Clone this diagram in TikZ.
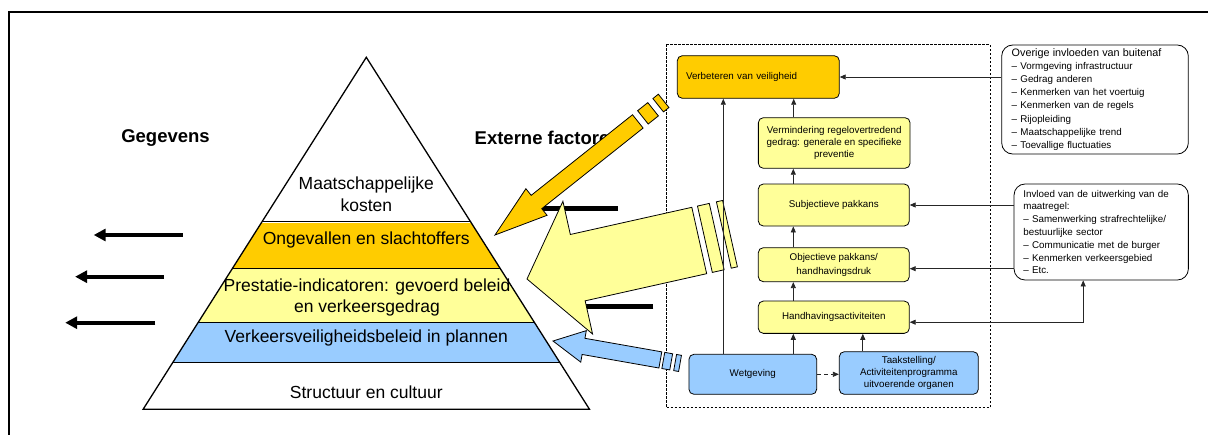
\documentclass[tikz,border=0pt]{standalone}
\usepackage{fontspec}
\setmainfont{Liberation Sans}
\usetikzlibrary{arrows.meta}
\definecolor{amber}{HTML}{FFCC00}
\definecolor{paleyellow}{HTML}{FFFF99}
\definecolor{skyblue}{HTML}{99CCFF}

\begin{document}
\begin{tikzpicture}[x=1pt,y=-1pt,
  box/.style={draw, line width=0.8pt, rounded corners=5pt, align=center, inner sep=0pt,
    font=\fontsize{9.8}{12.3}\selectfont},
  note/.style={draw, line width=0.8pt, rounded corners=11pt, align=left, inner sep=0pt,
    font=\fontsize{9.8}{12.8}\selectfont},
  conn/.style={line width=0.8pt, draw=black!85, -{Triangle[length=6pt,width=5pt]}},
  bothconn/.style={line width=0.8pt, draw=black!85,
    {Triangle[length=6pt,width=5pt]}-{Triangle[length=6pt,width=5pt]}},
  datarrow/.style={line width=4pt, -{Triangle[length=12pt,width=12pt]}},
  blockarrow/.style={draw, line width=0.8pt, line join=miter},
  layer/.style={align=center, inner sep=0pt, font=\fontsize{17.5}{21.5}\selectfont},
  heading/.style={inner sep=0pt, font=\bfseries\fontsize{18.5}{22}\selectfont}
]
\useasboundingbox (0,0) rectangle (1208,434);

% outer frame (continues past the page edge)
\draw[line width=1.8pt] (8.7,500) -- (8.7,11.7) -- (1300,11.7);

% ---------- pyramid ----------
\coordinate (apex) at (366.3,57.3);
\coordinate (bl) at (143.1,409.3);
\coordinate (br) at (589.5,409.3);
\begin{scope}
  \clip (apex) -- (bl) -- (br) -- cycle;
  \fill[amber] (100,222.5) rectangle (650,268);
  \fill[paleyellow] (100,268) rectangle (650,322.5);
  \fill[skyblue] (100,322.5) rectangle (650,362.5);
  \draw[line width=1pt] (100,221.3) -- (650,221.3);
  \draw[line width=1pt] (100,268) -- (650,268);
  \draw[line width=1pt] (100,322.5) -- (650,322.5);
  \draw[line width=1pt] (100,362.5) -- (650,362.5);
\end{scope}
\node[layer] (kosten) at (366.3,194) {Maatschappelijke\\kosten};
\node[layer] (ongevallen) at (366.3,240) {Ongevallen en slachtoffers};
\node[layer] (prestatie) at (367,297.5) {Prestatie-indicatoren: gevoerd beleid\\en verkeersgedrag};
\node[layer] (plannen) at (366.3,338) {Verkeersveiligheidsbeleid in plannen};
\node[layer] (cultuur) at (366.3,392) {Structuur en cultuur};
\draw[line width=1.3pt, line join=miter] (apex) -- (bl) -- (br) -- cycle;

% ---------- headings ----------
\node[heading] (gegevens) at (165.5,138) {Gegevens};
\node[heading, anchor=west] (extern) at (474.5,138) {Externe factoren};

% ---------- data arrows on the left ----------
\coordinate (d1s) at (182.7,235);   \coordinate (d1e) at (93.7,235);
\coordinate (d2s) at (164.1,276.7); \coordinate (d2e) at (75.1,276.7);
\coordinate (d3s) at (155.4,322.7); \coordinate (d3e) at (65.2,322.7);
\draw[datarrow] (d1s) -- (d1e);
\draw[datarrow] (d2s) -- (d2e);
\draw[datarrow] (d3s) -- (d3e);

% bars on the right, partly hidden by the block arrows
\coordinate (r1s) at (618,208.3);   \coordinate (r1e) at (530,208.3);
\coordinate (r2s) at (653.3,306.7); \coordinate (r2e) at (575,306.7);
\draw[line width=4.5pt] (r1s) -- (r1e);
\draw[line width=4.5pt] (r2s) -- (r2e);

% ---------- dashed frame of the model ----------
\draw[line width=0.7pt, dash pattern=on 2.5pt off 1.5pt] (666,44.3) rectangle (990,407.7);

% ---------- striped block arrows ----------
% blue
\begin{scope}[shift={(553,341)}, rotate=-10]
  \filldraw[blockarrow, fill=skyblue] (0,0) -- (31,-16) -- (31,-8.2) -- (109,-8.2)
    -- (109,8.2) -- (31,8.2) -- (31,16) -- cycle;
  \filldraw[blockarrow, fill=skyblue] (112,-8.2) rectangle (120,8.2);
  \filldraw[blockarrow, fill=skyblue] (124,-8.2) rectangle (129,8.2);
\end{scope}
% orange
\begin{scope}[shift={(495,235)}, rotate=38.5]
  \filldraw[blockarrow, fill=amber] (0,0) -- (53,-17) -- (53,-8.5) -- (182.5,-8.5)
    -- (182.5,8.5) -- (53,8.5) -- (53,17) -- cycle;
  \filldraw[blockarrow, fill=amber] (189,-8.5) rectangle (202,8.5);
  \filldraw[blockarrow, fill=amber] (208.5,-8.5) rectangle (215.5,8.5);
\end{scope}
% yellow
\begin{scope}[shift={(527,279)}, rotate=12.6]
  \filldraw[blockarrow, fill=paleyellow] (0,0) -- (52,-68) -- (52,-34) -- (176.5,-34)
    -- (176.5,34) -- (52,34) -- (52,68) -- cycle;
  \filldraw[blockarrow, fill=paleyellow] (182.3,-34) rectangle (194.4,34);
  \filldraw[blockarrow, fill=paleyellow] (201.7,-34) rectangle (208,34);
\end{scope}

% ---------- model boxes ----------
\node[box, fill=amber, minimum width=162pt, minimum height=42.6pt, text width=144.6pt,
  align=left] (verb) at (758.3,77) {Verbeteren van veiligheid};
\node[box, fill=paleyellow, minimum width=151.7pt, minimum height=50.6pt] (verm) at (834.2,143)
  {Vermindering regelovertredend\\gedrag: generale en specifieke\\preventie};
\node[box, fill=paleyellow, minimum width=151pt, minimum height=42pt] (subj) at (833.8,205)
  {Subjectieve pakkans};
\node[box, fill=paleyellow, minimum width=151pt, minimum height=34pt] (obj) at (833.8,264.7)
  {Objectieve pakkans/\\[1.7pt]handhavingsdruk};
\node[box, fill=paleyellow, minimum width=151pt, minimum height=32.3pt] (hand) at (833.8,317.2)
  {Handhavingsactiviteiten};
\node[box, fill=skyblue, minimum width=127.7pt, minimum height=40pt] (wet) at (752.8,374.3)
  {Wetgeving};
\node[box, fill=skyblue, minimum width=139pt, minimum height=42.6pt] (taak) at (908.8,373)
  {Taakstelling/\\Activiteitenprogramma\\uitvoerende organen};

% ---------- influence notes ----------
\node[note, minimum width=186.6pt, minimum height=109pt, text width=166.6pt,
  font=\fontsize{9.8}{13.2}\selectfont] (overige) at (1095,99.5)
  {{\fontsize{10.8}{13.2}\selectfont Overige invloeden van buitenaf}\\
   – Vormgeving infrastructuur\\
   – Gedrag anderen\\
   – Kenmerken van het voertuig\\
   – Kenmerken van de regels\\
   – Rijopleiding\\
   – Maatschappelijke trend\\
   – Toevallige fluctuaties};
\node[note, minimum width=174.3pt, minimum height=96pt, text width=155.7pt] (invloed) at (1101.2,232)
  {Invloed van de uitwerking van de\\
   maatregel:\\
   – Samenwerking strafrechtelijke/\\
   bestuurlijke sector\\
   – Communicatie met de burger\\
   – Kenmerken verkeersgebied\\
   – Etc.};

% ---------- connectors ----------
\draw[conn] (verb.east -| overige.west) -- (verb.east);
\draw[conn] (subj.east -| invloed.west) -- (subj.east);
\coordinate (objin) at ([yshift=-4pt]obj.east);
\draw[conn] (objin -| invloed.west) -- (objin);
\coordinate (handin) at ([yshift=-5pt]hand.east);
\coordinate (invfoot) at ([xshift=-18pt]invloed.south);
\draw[bothconn] (handin) -| (invfoot);

\coordinate (wl) at ([xshift=-29.5pt]wet.north);
\draw[conn] (wl) -- (wl |- verb.south);
\coordinate (wr) at ([xshift=40.5pt]wet.north);
\draw[conn] (wr) -- (wr |- hand.south);
\coordinate (tk) at ([xshift=-46pt]taak.north);
\draw[conn] (tk) -- (tk |- hand.south);
\coordinate (hn) at ([xshift=-40.5pt]hand.north);
\draw[conn] (hn) -- (hn |- obj.south);
\coordinate (on) at ([xshift=-40.5pt]obj.north);
\draw[conn] (on) -- (on |- subj.south);
\coordinate (sn) at ([xshift=-40.5pt]subj.north);
\draw[conn] (sn) -- (sn |- verm.south);
\coordinate (vn) at ([xshift=-40.5pt]verm.north);
\draw[conn] (vn) -- (vn |- verb.south);
\draw[conn, dash pattern=on 4pt off 3pt] (wet.east) -- (wet.east -| taak.west);
\end{tikzpicture}
\end{document}
